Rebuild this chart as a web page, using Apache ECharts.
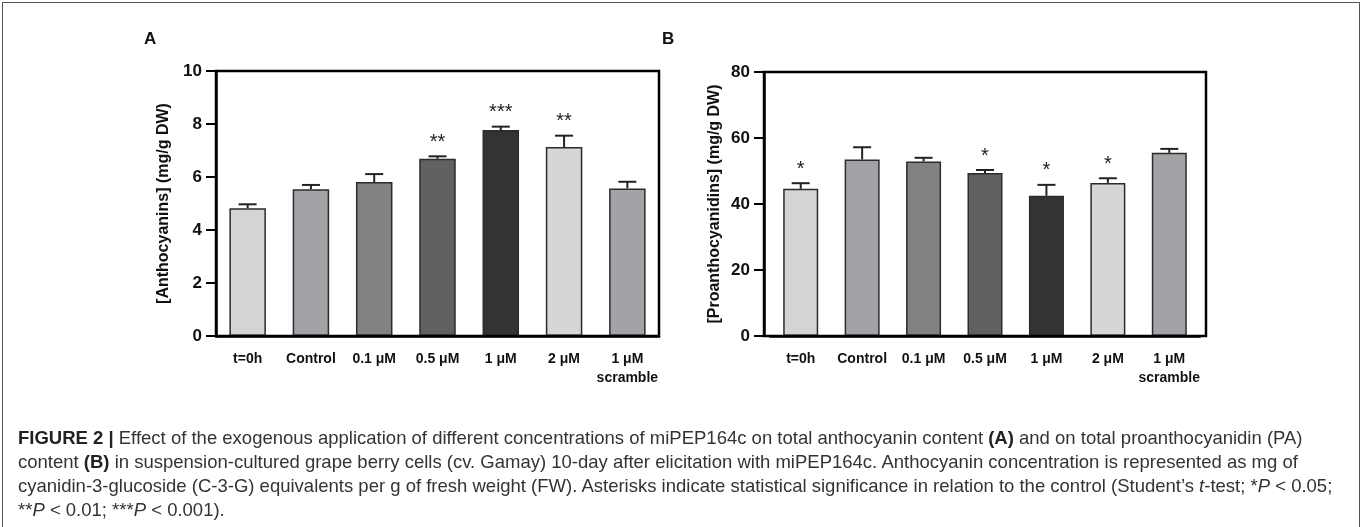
<!DOCTYPE html>
<html>
<head>
<meta charset="utf-8">
<script src="https://cdn.jsdelivr.net/npm/echarts@6/dist/echarts.min.js"></script>
<style>
  body { margin: 0; background: #fff; }
  #wrap { position: relative; width: 1362px; height: 527px; overflow: hidden; }
  #chart { position: absolute; left: 0; top: 0; width: 1362px; height: 527px; }
  #frame { position: absolute; left: 2px; top: 2px; width: 1356px; height: 540px; border: 1px solid #555; }
  #caption {
    position: absolute; left: 18px; top: 426px; white-space: nowrap;
    font-family: "Liberation Sans", Arial, sans-serif; font-size: 18.5px; line-height: 24px; color: #333;
  }
  #caption b { color: #222; }
</style>
</head>
<body>
<div id="wrap">
  <div id="frame"></div>
  <div id="chart"></div>
  <div id="caption">
    <b>FIGURE 2 |</b> Effect of the exogenous application of different concentrations of miPEP164c on total anthocyanin content <b>(A)</b> and on total proanthocyanidin (PA)<br>
    content <b>(B)</b> in suspension-cultured grape berry cells (cv. Gamay) 10-day after elicitation with miPEP164c. Anthocyanin concentration is represented as mg of<br>
    cyanidin-3-glucoside (C-3-G) equivalents per g of fresh weight (FW). Asterisks indicate statistical significance in relation to the control (Student’s <i>t</i>-test; *<i>P</i> &lt; 0.05;<br>
    **<i>P</i> &lt; 0.01; ***<i>P</i> &lt; 0.001).
  </div>
</div>
<script>
// categories shared by both panels
const categories = ['t=0h', 'Control', '0.1 μM', '0.5 μM', '1 μM', '2 μM', '1 μM\nscramble'];

// A: anthocyanins (mg/g DW)
const anthoMean = [4.82, 5.54, 5.81, 6.69, 7.77, 7.13, 5.57];
const anthoErr = [0.15, 0.16, 0.30, 0.09, 0.13, 0.43, 0.25];
const anthoSig = ['', '', '', '**', '***', '**', ''];

// B: proanthocyanidins (mg/g DW)
const proMean = [44.6, 53.5, 52.9, 49.4, 42.5, 46.4, 55.5];
const proErr = [1.7, 3.7, 1.1, 0.9, 3.3, 1.4, 1.2];
const proSig = ['*', '', '', '*', '*', '*', ''];

const barColors = ['#d4d4d4', '#a3a3a7', '#828282', '#616161', '#333333', '#d6d6d6', '#a3a3a7'];

const FONT = '"Liberation Sans", Arial, sans-serif';

function barSeries(idx, means, width) {
  return {
    type: 'bar',
    xAxisIndex: idx,
    yAxisIndex: idx,
    barWidth: width,
    data: means.map((v, i) => ({
      value: v,
      itemStyle: { color: barColors[i], borderColor: '#2b2b2b', borderWidth: 1.5 }
    })),
    z: 2
  };
}

function errSeries(idx, means, errs, sig) {
  return {
    type: 'custom',
    xAxisIndex: idx,
    yAxisIndex: idx,
    data: means.map((m, i) => [i, m, errs[i]]),
    z: 5,
    renderItem: function (params, api) {
      const base = api.coord([api.value(0), api.value(1)]);
      const top = api.coord([api.value(0), api.value(1) + api.value(2)]);
      const x = base[0];
      const kids = [
        { type: 'line', shape: { x1: x, y1: base[1], x2: x, y2: top[1] }, style: { stroke: '#222', lineWidth: 2 } },
        { type: 'line', shape: { x1: x - 9, y1: top[1], x2: x + 9, y2: top[1] }, style: { stroke: '#222', lineWidth: 2 } }
      ];
      const s = sig[params.dataIndex];
      if (s) {
        kids.push({
          type: 'text', x: x, y: top[1] - 4,
          style: { text: s, textAlign: 'center', textVerticalAlign: 'bottom', font: '20px ' + FONT, fill: '#222' }
        });
      }
      return { type: 'group', children: kids };
    }
  };
}

function xAxis(idx) {
  return {
    type: 'category',
    gridIndex: idx,
    data: categories,
    axisLine: { lineStyle: { color: '#000', width: 2.5 } },
    axisTick: { alignWithLabel: true, length: 10, lineStyle: { color: '#000', width: 2 } },
    axisLabel: { color: '#111', fontFamily: FONT, fontWeight: 'bold', fontSize: 14, margin: 14, lineHeight: 19, interval: 0 }
  };
}

function yAxis(idx, max, step, name, gap, offset) {
  return {
    type: 'value',
    gridIndex: idx,
    min: 0, max: max, interval: step,
    offset: offset,
    name: name,
    nameLocation: 'middle',
    nameGap: gap,
    nameTextStyle: { color: '#111', fontFamily: FONT, fontWeight: 'bold', fontSize: 16 },
    axisLine: { show: true, lineStyle: { color: '#000', width: 2.5 } },
    axisTick: { show: true, length: 10, lineStyle: { color: '#000', width: 2 } },
    axisLabel: { color: '#111', fontFamily: FONT, fontWeight: 'bold', fontSize: 17, margin: 14 },
    splitLine: { show: false }
  };
}

const chart = echarts.init(document.getElementById('chart'), null, { renderer: 'canvas' });

chart.setOption({
  animation: false,
  grid: [
    { left: 216, top: 71, width: 443, height: 265 },
    { left: 770, top: 72, width: 430, height: 264 }
  ],
  xAxis: [xAxis(0), xAxis(1)],
  yAxis: [
    yAxis(0, 10, 2, '[Anthocyanins] (mg/g DW)', 44, 0),
    yAxis(1, 80, 20, '[Proanthocyanidins] (mg/g DW)', 41, 6)
  ],
  series: [
    barSeries(0, anthoMean, 36.5),
    errSeries(0, anthoMean, anthoErr, anthoSig),
    barSeries(1, proMean, 35),
    errSeries(1, proMean, proErr, proSig)
  ],
  graphic: [
    { type: 'rect', z: 100, shape: { x: 216, y: 71, width: 443, height: 265 }, style: { fill: null, stroke: '#000', lineWidth: 2.5 } },
    { type: 'rect', z: 100, shape: { x: 764, y: 72, width: 442, height: 264 }, style: { fill: null, stroke: '#000', lineWidth: 2.5 } },
    { type: 'text', left: 144, top: 31, style: { text: 'A', font: 'bold 17px ' + FONT, fill: '#111' } },
    { type: 'text', left: 662, top: 31, style: { text: 'B', font: 'bold 17px ' + FONT, fill: '#111' } }
  ]
});
</script>
</body>
</html>
